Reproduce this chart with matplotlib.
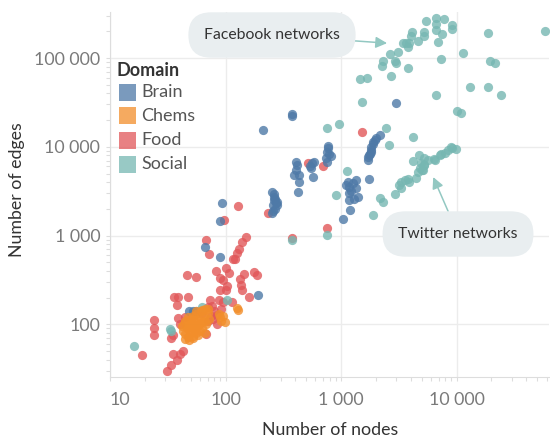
import matplotlib

matplotlib.use("Agg")

import matplotlib.pyplot as plt
from matplotlib.patches import Rectangle
from matplotlib.ticker import NullFormatter

plt.rcParams["font.family"] = ["Lato", "DejaVu Sans"]

# values (nodes, edges per network)
brain_nodes = [93, 90, 66, 90, 190, 48, 52, 55,
               210, 373, 373,
               250, 265, 270, 275, 258, 280, 258, 250, 270, 265, 262, 278,
               405, 418, 405, 390, 433, 433, 424, 535, 565, 583, 547, 570,
               777, 777, 760, 790, 815, 750, 735,
               2150, 2010, 1880, 1820, 1800, 1760, 1700, 1710, 1820, 1900, 1950, 1780,
               1140, 1350, 1180, 1340, 1180, 1400, 1180, 1200, 1030, 1760, 1100, 1260, 1230, 1300,
               3000]
brain_edges = [2330, 1440, 735, 580, 213, 141, 141, 141,
               15500, 23300, 22200,
               3100, 2950, 2600, 2300, 2200, 2200, 1900, 1800, 2000, 2500, 2750, 2400,
               6800, 6250, 5500, 4800, 4800, 4000, 3100, 6100, 6500, 6800, 5700, 4600,
               10300, 9700, 8800, 8400, 7800, 6800, 7500,
               13500, 12500, 11400, 10000, 8800, 8100, 7100, 7600, 9200, 10800, 11900, 8400,
               4040, 4200, 3550, 3400, 2980, 2720, 2500, 1940, 1530, 4300, 3700, 3900, 3200, 2600,
               31000]

chems_nodes = [42, 43, 44, 45, 45, 46, 47, 47, 48, 48, 49, 50, 50, 50, 51, 52, 52, 53, 54, 55,
               55, 56, 57, 58, 59, 60, 60, 61, 62, 63, 65, 66, 67, 68, 70, 72, 45, 48, 52, 58,
               88, 90, 92, 95, 98, 126, 128, 63, 66, 70, 56]
chems_edges = [95, 85, 100, 78, 110, 90, 120, 72, 95, 105, 85, 115, 100, 80, 92, 125, 70, 108, 88, 98,
               130, 80, 112, 95, 102, 118, 85, 140, 105, 92, 125, 110, 80, 100, 135, 115, 68, 66, 74, 75,
               130, 120, 110, 125, 105, 152, 145, 145, 150, 150, 140]

food_nodes = [127, 97, 68, 72, 150, 140, 130, 125, 120, 115,
              46, 55, 82, 100, 107, 90, 96, 144, 133, 176, 188,
              103, 90, 100, 140, 135, 159, 36, 39, 38, 47,
              74, 87, 96, 114, 71, 76, 84,
              24, 24, 24, 39, 35, 34, 19, 35, 40, 43, 38, 34, 31,
              235, 376, 517, 693, 760, 1530,
              45, 40, 68, 75, 80, 78, 70, 85, 62, 92]
food_edges = [2140, 1480, 890, 616, 970, 840, 710, 640, 550, 550,
              357, 340, 396, 430, 380, 333, 318, 373, 324, 386, 363,
              267, 245, 245, 245, 279, 202, 202, 205, 164, 205,
              188, 188, 180, 180, 158, 160, 127,
              113, 92, 76, 118, 76, 71, 45, 46, 46, 50, 40, 35, 30,
              1790, 945, 6500, 6100, 1210, 14600,
              120, 102, 78, 125, 140, 115, 110, 100, 135, 150]

social_nodes = [5380, 6670, 7770, 6670, 6670, 9150, 9150, 7450, 6890, 5170,
                5270, 4600, 4100, 4050, 3860, 3640, 3430, 3830, 3100, 2670,
                2940, 3000, 2300, 2250, 2710, 3830, 7270, 11300, 18500, 57600,
                19600, 21500, 1470, 1680, 1530, 6670, 13000, 18800, 24200, 10100,
                10900, 960, 760, 2470, 2590, 4180, 1130, 900, 1880, 760, 379,
                9150, 9800, 8400, 7870, 7370, 7110, 6450, 5650, 4720, 4180,
                4950, 5270, 4780, 5040, 4600, 4470, 3790, 3540, 3900, 3310,
                3140, 3310, 2900, 2150, 2300, 8900, 6370, 5210, 5210, 5100,
                16, 33, 34, 62, 103]
social_edges = [263000, 280000, 273000, 241000, 207000, 235000, 212000, 185000, 150000, 195000,
                178000, 155000, 198000, 177000, 149000, 146000, 146000, 134000, 118000, 110000,
                92500, 87200, 92500, 81900, 63200, 77200, 96700, 115000, 190000, 203000,
                93200, 88500, 58100, 59600, 31900, 38000, 46800, 46800, 38000, 25200,
                23800, 18000, 16400, 16400, 10500, 13000, 5380, 2860, 1700, 1010, 890,
                9750, 9350, 9190, 8430, 8280, 8070, 7090, 7090, 8070, 6910,
                6510, 6230, 5720, 5470, 5240, 4410, 4330, 4220, 4040, 4040,
                3700, 3400, 2910, 2670, 2390, 9850, 7210, 7400, 6230, 5470,
                57, 89, 84, 158, 188]

domains = ["Brain", "Chems", "Food", "Social"]
colors = {"Brain": "#4e79a7", "Chems": "#f28e2b", "Food": "#e15759", "Social": "#76b7b2"}
series = {
    "Brain": (brain_nodes, brain_edges),
    "Chems": (chems_nodes, chems_edges),
    "Food": (food_nodes, food_edges),
    "Social": (social_nodes, social_edges),
}

x_ticks = [10, 100, 1000, 10000]
x_labels = ["10", "100", "1 000", "10 000"]
y_ticks = [100, 1000, 10000, 100000]
y_labels = ["100", "1 000", "10 000", "100 000"]

W, H = 550, 443


def fx(px):
    return px / W


def fy(py):
    return 1 - py / H


fig = plt.figure(figsize=(W / 100, H / 100), dpi=100)
ax = fig.add_axes([fx(110), fy(377), 439 / W, 365 / H])

for name in ["Food", "Brain", "Social", "Chems"]:
    n, e = series[name]
    ax.scatter(n, e, s=44, color=colors[name], alpha=0.8, linewidths=0, zorder=3)

ax.set_xscale("log")
ax.set_yscale("log")
ax.set_xlim(10, 63000)
ax.set_ylim(25.5, 330000)
ax.set_xticks(x_ticks, labels=x_labels)
ax.set_yticks(y_ticks, labels=y_labels)
ax.xaxis.set_minor_formatter(NullFormatter())
ax.yaxis.set_minor_formatter(NullFormatter())
ax.get_xticklabels()[0].set_horizontalalignment("left")

ax.grid(True, which="major", color="#ececec", linewidth=1)
ax.set_axisbelow(True)
for side in ["top", "right"]:
    ax.spines[side].set_visible(False)
for side in ["left", "bottom"]:
    ax.spines[side].set_color("#dddddd")
ax.tick_params(which="both", direction="out", length=3, width=0.8, color="#dddddd",
               labelcolor="#7a7a7a", labelsize=12.8)
ax.tick_params(axis="x", pad=8)
ax.tick_params(axis="y", pad=4)

fig.text(fx(330), fy(430), "Number of nodes", ha="center", va="center", fontsize=12.8, color="#333333")
fig.text(fx(17), fy(190), "Number of edges", ha="center", va="center", rotation=90,
         fontsize=12.8, color="#333333")

# legend
fig.text(fx(117), fy(70), "Domain", fontsize=13, fontweight="bold", color="#333333", ha="left", va="center")
for i, name in enumerate(domains):
    yc = 92 + 24 * i
    fig.patches.append(Rectangle((fx(119), fy(yc + 8.5)), 17 / W, 17 / H, transform=fig.transFigure,
                                 facecolor=colors[name], alpha=0.75, edgecolor="none"))
    fig.text(fx(141), fy(yc), name, fontsize=13, color="#555555", ha="left", va="center")

box = dict(boxstyle="round,pad=1.0,rounding_size=1.45", fc="#e9eef0", ec="none")
arrow = dict(arrowstyle="-|>,head_length=0.6,head_width=0.3", color="#93c8c2", lw=1.1, shrinkA=0, shrinkB=0)
ax.annotate("Facebook networks", xy=(2500, 147000), xytext=(fx(272), fy(35)), textcoords="figure fraction",
            ha="center", va="center", fontsize=11.3, color="#333333", bbox=box, arrowprops=arrow, zorder=5)
ax.annotate("Twitter networks", xy=(6270, 4560), xytext=(fx(458), fy(234)), textcoords="figure fraction",
            ha="center", va="center", fontsize=11.3, color="#333333", bbox=box, arrowprops=arrow, zorder=5)

fig.savefig("out.png", dpi=100)
